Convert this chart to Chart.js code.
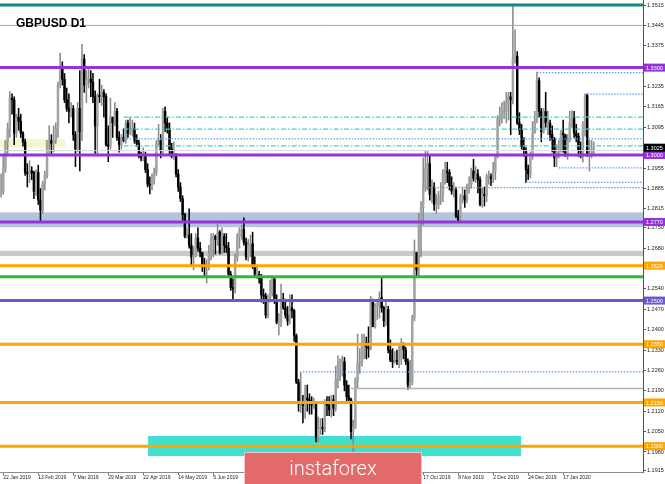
<!DOCTYPE html>
<html>
<head>
<meta charset="utf-8">
<title>GBPUSD D1</title>
<script src="https://cdn.jsdelivr.net/npm/chart.js@4.4.1/dist/chart.umd.min.js"></script>
<style>
  html, body { margin: 0; padding: 0; background: #fff; }
  #wrap { width: 665px; height: 484px; }
</style>
</head>
<body>
<div id="wrap"><canvas id="chart" width="665" height="484"></canvas></div>
<script>
// GBPUSD daily candles, 21 Jan 2019 .. 6 Feb 2020 (one line per week)
var opens = [
    1.2870, 1.2875, 1.2955, 1.3045, 1.3090,
    1.3195, 1.3190, 1.3075, 1.3130, 1.3115,
    1.3075, 1.3045, 1.2940, 1.2935, 1.2945,
    1.2940, 1.2875, 1.2940, 1.2845, 1.2810,
    1.2900, 1.2930, 1.3050, 1.3050, 1.3040,
    1.3050, 1.3090, 1.3240, 1.3300, 1.3260,
    1.3190, 1.3160, 1.3150, 1.3160, 1.3070,
    1.3020, 1.3160, 1.3080, 1.3330, 1.3240,
    1.3260, 1.3260, 1.3250, 1.3200, 1.3100,
    1.3205, 1.3200, 1.3215, 1.3200, 1.3035,
    1.3030, 1.3130, 1.3110, 1.3150, 1.3060,
    1.3035, 1.3060, 1.3050, 1.3110, 1.3075,
    1.3085, 1.3090, 1.3050, 1.3040, 1.2995,
    1.2990, 1.2995, 1.2950, 1.2900, 1.2895,
    1.2920, 1.2940, 1.3040, 1.3050, 1.3015,
    1.3150, 1.3110, 1.3090, 1.3020, 1.2995,
    1.3000, 1.2935, 1.2890, 1.2850, 1.2795,
    1.2720, 1.2725, 1.2690, 1.2650, 1.2655,
    1.2715, 1.2680, 1.2665, 1.2625, 1.2615,
    1.2625, 1.2660, 1.2710, 1.2720, 1.2710,
    1.2735, 1.2665, 1.2720, 1.2690, 1.2680,
    1.2590, 1.2545, 1.2540, 1.2650, 1.2720,
    1.2740, 1.2745, 1.2700, 1.2650, 1.2690,
    1.2695, 1.2620, 1.2590, 1.2590, 1.2575,
    1.2520, 1.2515, 1.2450, 1.2505, 1.2525,
    1.2575, 1.2505, 1.2425, 1.2425, 1.2505,
    1.2475, 1.2450, 1.2430, 1.2475, 1.2465,
    1.2380, 1.2220, 1.2145, 1.2150, 1.2140,
    1.2165, 1.2160, 1.2150, 1.2140, 1.2145,
    1.2030, 1.2060, 1.2065, 1.2060, 1.2150,
    1.2140, 1.2125, 1.2160, 1.2130, 1.2230,
    1.2280, 1.2290, 1.2290, 1.2210, 1.2170,
    1.2160, 1.2050, 1.2065, 1.2225, 1.2285,
    1.2290, 1.2355, 1.2355, 1.2340, 1.2335,
    1.2500, 1.2410, 1.2480, 1.2480, 1.2510,
    1.2475, 1.2430, 1.2470, 1.2330, 1.2295,
    1.2290, 1.2295, 1.2290, 1.2300, 1.2345,
    1.2330, 1.2290, 1.2210, 1.2220, 1.2440,
    1.2665, 1.2605, 1.2775, 1.2820, 1.2890,
    1.2955, 1.2970, 1.2865, 1.2890, 1.2830,
    1.2830, 1.2855, 1.2860, 1.2940, 1.2945,
    1.2940, 1.2895, 1.2875, 1.2880, 1.2790,
    1.2775, 1.2855, 1.2860, 1.2845, 1.2895,
    1.2900, 1.2945, 1.2920, 1.2935, 1.2915,
    1.2830, 1.2865, 1.2860, 1.2925, 1.2925,
    1.2920, 1.2945, 1.2995, 1.3125, 1.3135,
    1.3150, 1.3150, 1.3180, 1.3200, 1.3190,
    1.3330, 1.3340, 1.3110, 1.3085, 1.3030,
    1.3015, 1.2950, 1.2935, 1.3005,
    1.3075, 1.3115, 1.3255, 1.3150,
    1.3080, 1.3150, 1.3110, 1.3110, 1.3070,
    1.3055, 1.2990, 1.3010, 1.3030, 1.3075,
    1.3070, 1.3000, 1.3050, 1.3110, 1.3125,
    1.3075, 1.3065, 1.3015, 1.3010, 1.3105,
    1.3205, 1.3000, 1.3005, 1.3020
];
var highs = [
    1.2935, 1.2995, 1.3050, 1.3110, 1.3218,
    1.3210, 1.3200, 1.3140, 1.3160, 1.3140,
    1.3080, 1.3055, 1.2970, 1.2980, 1.2960,
    1.2945, 1.2950, 1.2965, 1.2885, 1.2910,
    1.2945, 1.3050, 1.3100, 1.3070, 1.3100,
    1.3110, 1.3250, 1.3350, 1.3320, 1.3280,
    1.3230, 1.3210, 1.3180, 1.3170, 1.3080,
    1.3180, 1.3290, 1.3380, 1.3345, 1.3290,
    1.3300, 1.3290, 1.3280, 1.3220, 1.3210,
    1.3260, 1.3240, 1.3225, 1.3210, 1.3100,
    1.3195, 1.3130, 1.3180, 1.3160, 1.3080,
    1.3070, 1.3090, 1.3120, 1.3120, 1.3130,
    1.3120, 1.3110, 1.3070, 1.3050, 1.3010,
    1.3025, 1.3010, 1.2970, 1.2925, 1.2935,
    1.2955, 1.3050, 1.3105, 1.3070, 1.3160,
    1.3165, 1.3130, 1.3110, 1.3040, 1.3045,
    1.3005, 1.2950, 1.2905, 1.2860, 1.2800,
    1.2750, 1.2815, 1.2730, 1.2685, 1.2730,
    1.2750, 1.2700, 1.2665, 1.2645, 1.2640,
    1.2690, 1.2730, 1.2730, 1.2725, 1.2763,
    1.2740, 1.2750, 1.2730, 1.2730, 1.2700,
    1.2600, 1.2575, 1.2660, 1.2730, 1.2750,
    1.2760, 1.2784, 1.2715, 1.2710, 1.2725,
    1.2735, 1.2650, 1.2620, 1.2600, 1.2590,
    1.2540, 1.2525, 1.2520, 1.2570, 1.2580,
    1.2575, 1.2520, 1.2455, 1.2557, 1.2525,
    1.2505, 1.2480, 1.2520, 1.2520, 1.2470,
    1.2385, 1.2230, 1.2255, 1.2175, 1.2210,
    1.2210, 1.2180, 1.2170, 1.2165, 1.2150,
    1.2100, 1.2095, 1.2095, 1.2160, 1.2170,
    1.2170, 1.2175, 1.2175, 1.2275, 1.2310,
    1.2300, 1.2310, 1.2305, 1.2225, 1.2210,
    1.2165, 1.2090, 1.2235, 1.2385, 1.2335,
    1.2385, 1.2385, 1.2375, 1.2410, 1.2515,
    1.2505, 1.2490, 1.2500, 1.2530, 1.2582,
    1.2480, 1.2500, 1.2480, 1.2365, 1.2335,
    1.2325, 1.2330, 1.2345, 1.2370, 1.2355,
    1.2340, 1.2300, 1.2295, 1.2450, 1.2708,
    1.2665, 1.2800, 1.2840, 1.2990, 1.3012,
    1.3012, 1.3000, 1.2915, 1.2905, 1.2865,
    1.2875, 1.2905, 1.2950, 1.2976, 1.2975,
    1.2950, 1.2925, 1.2905, 1.2890, 1.2810,
    1.2865, 1.2890, 1.2880, 1.2900, 1.2925,
    1.2955, 1.2985, 1.2960, 1.2950, 1.2925,
    1.2885, 1.2890, 1.2935, 1.2945, 1.2935,
    1.2975, 1.3000, 1.3135, 1.3165, 1.3180,
    1.3185, 1.3215, 1.3215, 1.3215, 1.3515,
    1.3430, 1.3355, 1.3145, 1.3105, 1.3060,
    1.3025, 1.2965, 1.3010, 1.3115,
    1.3150, 1.3285, 1.3265, 1.3160,
    1.3160, 1.3215, 1.3150, 1.3120, 1.3100,
    1.3060, 1.3035, 1.3050, 1.3085, 1.3120,
    1.3070, 1.3070, 1.3150, 1.3152, 1.3150,
    1.3105, 1.3075, 1.3045, 1.3115, 1.3210,
    1.3210, 1.3050, 1.3050, 1.3045
];
var lows = [
    1.2855, 1.2865, 1.2940, 1.3000, 1.3060,
    1.3140, 1.3035, 1.3060, 1.3085, 1.3060,
    1.3030, 1.2930, 1.2890, 1.2905, 1.2915,
    1.2850, 1.2860, 1.2830, 1.2775, 1.2800,
    1.2880, 1.2920, 1.3000, 1.3000, 1.3010,
    1.3040, 1.3060, 1.3230, 1.3240, 1.3180,
    1.3150, 1.3110, 1.3130, 1.3050, 1.2960,
    1.3010, 1.2945, 1.3050, 1.3215, 1.3180,
    1.3230, 1.3200, 1.3180, 1.3005, 1.3000,
    1.3180, 1.3170, 1.3130, 1.3030, 1.2977,
    1.3020, 1.3060, 1.3100, 1.3050, 1.3010,
    1.3020, 1.3045, 1.3040, 1.3060, 1.3070,
    1.3065, 1.3040, 1.3030, 1.2990, 1.2980,
    1.2980, 1.2940, 1.2890, 1.2866, 1.2880,
    1.2900, 1.2930, 1.3030, 1.2990, 1.3000,
    1.3080, 1.3075, 1.3000, 1.2990, 1.2985,
    1.2925, 1.2875, 1.2840, 1.2775, 1.2715,
    1.2715, 1.2680, 1.2620, 1.2605, 1.2650,
    1.2670, 1.2650, 1.2600, 1.2580, 1.2560,
    1.2605, 1.2640, 1.2650, 1.2660, 1.2690,
    1.2660, 1.2660, 1.2665, 1.2665, 1.2585,
    1.2535, 1.2506, 1.2525, 1.2635, 1.2680,
    1.2710, 1.2690, 1.2640, 1.2635, 1.2650,
    1.2610, 1.2580, 1.2575, 1.2560, 1.2495,
    1.2490, 1.2440, 1.2440, 1.2495, 1.2515,
    1.2490, 1.2420, 1.2382, 1.2410, 1.2470,
    1.2440, 1.2415, 1.2420, 1.2440, 1.2360,
    1.2215, 1.2120, 1.2115, 1.2080, 1.2095,
    1.2120, 1.2110, 1.2110, 1.2130, 1.2015,
    1.2015, 1.2040, 1.2040, 1.2050, 1.2105,
    1.2105, 1.2100, 1.2105, 1.2120, 1.2200,
    1.2225, 1.2240, 1.2190, 1.2155, 1.2150,
    1.2025, 1.1960, 1.2060, 1.2200, 1.2250,
    1.2275, 1.2300, 1.2300, 1.2305, 1.2330,
    1.2410, 1.2405, 1.2435, 1.2440, 1.2460,
    1.2410, 1.2415, 1.2320, 1.2290, 1.2270,
    1.2285, 1.2280, 1.2270, 1.2280, 1.2300,
    1.2280, 1.2195, 1.2200, 1.2210, 1.2430,
    1.2580, 1.2585, 1.2650, 1.2760, 1.2875,
    1.2880, 1.2845, 1.2835, 1.2810, 1.2800,
    1.2815, 1.2830, 1.2840, 1.2900, 1.2905,
    1.2880, 1.2865, 1.2855, 1.2785, 1.2768,
    1.2770, 1.2835, 1.2820, 1.2835, 1.2870,
    1.2885, 1.2910, 1.2905, 1.2870, 1.2825,
    1.2820, 1.2825, 1.2840, 1.2900, 1.2895,
    1.2905, 1.2915, 1.2990, 1.3100, 1.3110,
    1.3125, 1.3110, 1.3120, 1.3070, 1.3175,
    1.3315, 1.3105, 1.3070, 1.3020, 1.2995,
    1.2905, 1.2915, 1.2920, 1.2985,
    1.3075, 1.3110, 1.3130, 1.3045,
    1.3075, 1.3095, 1.3070, 1.3050, 1.3010,
    1.2960, 1.2960, 1.2990, 1.3010, 1.3010,
    1.2995, 1.2985, 1.3045, 1.3095, 1.3060,
    1.3045, 1.2995, 1.2990, 1.2975, 1.3065,
    1.2995, 1.2945, 1.2990, 1.3000
];
var closes = [
    1.2875, 1.2955, 1.3045, 1.3090, 1.3195,
    1.3190, 1.3075, 1.3130, 1.3115, 1.3075,
    1.3045, 1.2940, 1.2935, 1.2945, 1.2940,
    1.2875, 1.2940, 1.2845, 1.2810, 1.2900,
    1.2930, 1.3050, 1.3050, 1.3040, 1.3050,
    1.3090, 1.3240, 1.3300, 1.3260, 1.3190,
    1.3160, 1.3150, 1.3160, 1.3070, 1.3020,
    1.3160, 1.3080, 1.3330, 1.3240, 1.3260,
    1.3260, 1.3250, 1.3200, 1.3100, 1.3205,
    1.3200, 1.3215, 1.3200, 1.3035, 1.3030,
    1.3130, 1.3110, 1.3150, 1.3060, 1.3035,
    1.3060, 1.3050, 1.3110, 1.3075, 1.3085,
    1.3090, 1.3050, 1.3040, 1.2995, 1.2990,
    1.2995, 1.2950, 1.2900, 1.2895, 1.2920,
    1.2940, 1.3040, 1.3050, 1.3015, 1.3150,
    1.3110, 1.3090, 1.3020, 1.2995, 1.3000,
    1.2935, 1.2890, 1.2850, 1.2795, 1.2720,
    1.2725, 1.2690, 1.2650, 1.2655, 1.2715,
    1.2680, 1.2665, 1.2625, 1.2615, 1.2625,
    1.2660, 1.2710, 1.2720, 1.2710, 1.2735,
    1.2665, 1.2720, 1.2690, 1.2680, 1.2590,
    1.2545, 1.2540, 1.2650, 1.2720, 1.2740,
    1.2745, 1.2700, 1.2650, 1.2690, 1.2695,
    1.2620, 1.2590, 1.2590, 1.2575, 1.2520,
    1.2515, 1.2450, 1.2505, 1.2525, 1.2575,
    1.2505, 1.2425, 1.2425, 1.2505, 1.2475,
    1.2450, 1.2430, 1.2475, 1.2465, 1.2380,
    1.2220, 1.2145, 1.2150, 1.2140, 1.2165,
    1.2160, 1.2150, 1.2140, 1.2145, 1.2030,
    1.2060, 1.2065, 1.2060, 1.2150, 1.2140,
    1.2125, 1.2160, 1.2130, 1.2230, 1.2280,
    1.2290, 1.2290, 1.2210, 1.2170, 1.2160,
    1.2050, 1.2065, 1.2225, 1.2285, 1.2290,
    1.2355, 1.2355, 1.2340, 1.2335, 1.2500,
    1.2410, 1.2480, 1.2480, 1.2510, 1.2475,
    1.2430, 1.2470, 1.2330, 1.2295, 1.2290,
    1.2295, 1.2290, 1.2300, 1.2345, 1.2330,
    1.2290, 1.2210, 1.2220, 1.2440, 1.2665,
    1.2605, 1.2775, 1.2820, 1.2890, 1.2955,
    1.2970, 1.2865, 1.2890, 1.2830, 1.2830,
    1.2855, 1.2860, 1.2940, 1.2945, 1.2940,
    1.2895, 1.2875, 1.2880, 1.2790, 1.2775,
    1.2855, 1.2860, 1.2845, 1.2895, 1.2900,
    1.2945, 1.2920, 1.2935, 1.2915, 1.2830,
    1.2865, 1.2860, 1.2925, 1.2925, 1.2920,
    1.2945, 1.2995, 1.3125, 1.3135, 1.3150,
    1.3150, 1.3180, 1.3200, 1.3190, 1.3330,
    1.3340, 1.3110, 1.3085, 1.3030, 1.3015,
    1.2950, 1.2935, 1.3005, 1.3075,
    1.3115, 1.3255, 1.3150, 1.3080,
    1.3150, 1.3110, 1.3110, 1.3070, 1.3055,
    1.2990, 1.3010, 1.3030, 1.3075, 1.3070,
    1.3000, 1.3050, 1.3110, 1.3125, 1.3075,
    1.3065, 1.3015, 1.3010, 1.3105, 1.3205,
    1.3000, 1.3005, 1.3020, 1.3025
];

// axis labels
var tickLabels = ['22 Jan 2019', '13 Feb 2019', '7 Mar 2019', '29 Mar 2019', '22 Apr 2019',
    '14 May 2019', '5 Jun 2019', '27 Jun 2019', '19 Jul 2019', '12 Aug 2019', '3 Sep 2019',
    '25 Sep 2019', '17 Oct 2019', '8 Nov 2019', '2 Dec 2019', '24 Dec 2019', '17 Jan 2020'];
var yTicks = [1.3515, 1.3445, 1.3375, 1.3235, 1.3165, 1.3095, 1.2955, 1.2885, 1.2815,
    1.2750, 1.2680, 1.2540, 1.2470, 1.2400, 1.2330, 1.2260, 1.2190, 1.2120, 1.2050,
    1.1980, 1.1915];
var yMin = 1.19113, yMax = 1.35322;
var emptySlots = 22; // chart shift on the right

// drawn objects on the chart (price levels, zones, price tags)
var zonesTop = [1.3055, 1.2803, 1.2671, 1.2035];
var zonesBottom = [1.3027, 1.2752, 1.2653, 1.1966];
var zonesFrom = [-0.5, null, null, 67.2];
var zonesTo = [29.2, null, null, 237.7];
var zonesColor = ['#f7f5cc', '#b3c5dd', '#c9c9c9', '#40e0d0'];

var levelPrices = [1.3515, 1.3445, 1.3300, 1.3015, 1.3000, 1.2770, 1.2620, 1.2582, 1.2500,
    1.2350, 1.2198, 1.2150, 1.2000,
    1.3283, 1.3209, 1.3055, 1.2956, 1.2906, 1.2888, 1.2255,
    1.3130, 1.3089, 1.3031];
var levelFrom = [null, null, null, null, null, null, null, null, null,
    null, 160, null, null,
    245, 268, 56, 255, 240, 194, 138,
    56, 56, 56];

var priceTags = [1.3300, 1.3000, 1.2770, 1.2620, 1.2500, 1.2350, 1.2150, 1.2000, 1.3025];

var purple = '#9632d8', orange = '#ffa500', dotBlue = '#5f9ff0', dashCyan = '#3fd4c4';
var levelStyle = [
    ['#17877f', 3], ['#a8a8a8', 1], [purple, 3], ['#d6d6d6', 1], [purple, 3], [purple, 3],
    [orange, 3], ['#2fba2f', 3], ['#6a5acd', 3], [orange, 3], ['#b4b4b4', 1.5], [orange, 3], [orange, 3],
    [dotBlue, 1.2, [1.5, 1.5]], [dotBlue, 1.2, [1.5, 1.5]], [dotBlue, 1.2, [1.5, 1.5]], [dotBlue, 1.2, [1.5, 1.5]],
    [dotBlue, 1.2, [1.5, 1.5]], [dotBlue, 1.2, [1.5, 1.5]], [dotBlue, 1.2, [1.5, 1.5]],
    [dashCyan, 1.2, [5, 2, 1.5, 2]], [dashCyan, 1.2, [5, 2, 1.5, 2]], [dashCyan, 1.2, [5, 2, 1.5, 2]]
];
var tagColors = [purple, purple, purple, orange, '#6a5acd', orange, orange, orange, '#000'];

// trading days (no weekends, 25 Dec, 1 Jan)
var months = ['Jan', 'Feb', 'Mar', 'Apr', 'May', 'Jun', 'Jul', 'Aug', 'Sep', 'Oct', 'Nov', 'Dec'];
var dates = [];
var d = new Date(Date.UTC(2019, 0, 21));
while (dates.length < opens.length + emptySlots) {
    var wd = d.getUTCDay();
    var md = d.getUTCMonth() * 100 + d.getUTCDate();
    if (wd !== 0 && wd !== 6 && md !== 1125 && md !== 1) {
        dates.push(d.getUTCDate() + ' ' + months[d.getUTCMonth()] + ' ' + d.getUTCFullYear());
    }
    d.setUTCDate(d.getUTCDate() + 1);
}

var bullBody = '#a3a3a3', bullWick = '#8a8a8a', bear = '#000000';
var bodyColors = opens.map(function(o, i) { return closes[i] >= o ? bullBody : bear; });
var wickColors = opens.map(function(o, i) { return closes[i] >= o ? bullWick : bear; });

var overlay = {
    id: 'overlay',
    beforeDatasetsDraw: function(chart) {
        var ctx = chart.ctx, a = chart.chartArea, xs = chart.scales.x, ys = chart.scales.y;
        ctx.save();
        ctx.beginPath();
        ctx.rect(a.left, a.top, a.width, a.height);
        ctx.clip();
        for (var i = 0; i < zonesTop.length; i++) {
            var x0 = zonesFrom[i] === null ? a.left : xs.getPixelForValue(zonesFrom[i]);
            var x1 = zonesTo[i] === null ? a.right : xs.getPixelForValue(zonesTo[i]);
            var y0 = ys.getPixelForValue(zonesTop[i]);
            var y1 = ys.getPixelForValue(zonesBottom[i]);
            ctx.fillStyle = zonesColor[i];
            ctx.fillRect(x0, y0, x1 - x0, y1 - y0);
        }
        ctx.restore();
    },
    afterDatasetsDraw: function(chart) {
        var ctx = chart.ctx, a = chart.chartArea, xs = chart.scales.x, ys = chart.scales.y;
        ctx.save();
        ctx.beginPath();
        ctx.rect(a.left, a.top, a.width, a.height);
        ctx.clip();
        for (var i = 0; i < levelPrices.length; i++) {
            var st = levelStyle[i];
            var py = ys.getPixelForValue(levelPrices[i]);
            var x0 = levelFrom[i] === null ? a.left : xs.getPixelForValue(levelFrom[i]);
            ctx.strokeStyle = st[0];
            ctx.lineWidth = st[1];
            ctx.setLineDash(st[2] || []);
            ctx.beginPath();
            ctx.moveTo(x0, py);
            ctx.lineTo(a.right, py);
            ctx.stroke();
        }
        ctx.restore();
    },
    afterDraw: function(chart) {
        var ctx = chart.ctx, a = chart.chartArea, ys = chart.scales.y;
        ctx.save();
        // price tags on the right scale
        ctx.font = '5.5px "Liberation Sans"';
        ctx.textBaseline = 'middle';
        ctx.textAlign = 'left';
        for (var i = 0; i < priceTags.length; i++) {
            var py = ys.getPixelForValue(priceTags[i]);
            ctx.fillStyle = tagColors[i];
            ctx.fillRect(a.right + 1, py - 4, 21, 8);
            ctx.fillStyle = '#fff';
            ctx.fillText(priceTags[i].toFixed(4), a.right + 3, py + 0.5);
        }
        // symbol title
        ctx.fillStyle = '#000';
        ctx.font = 'bold 12px "Liberation Sans"';
        ctx.textBaseline = 'alphabetic';
        ctx.fillText('GBPUSD D1', 16, 27);
        // watermark
        ctx.fillStyle = '#e26a6a';
        ctx.fillRect(244, 452, 178, 32);
        ctx.strokeStyle = '#f3c4c4';
        ctx.lineWidth = 1;
        ctx.strokeRect(244.5, 452.5, 177, 32);
        ctx.fillStyle = '#fff';
        ctx.font = '300 20px Roboto';
        ctx.textAlign = 'center';
        ctx.fillText('instaforex', 333, 475);
        ctx.restore();
    }
};

var ctx = document.getElementById('chart').getContext('2d');
var chart = new Chart(ctx, {
    type: 'bar',
    data: {
        labels: dates,
        datasets: [
            {
                label: 'body',
                data: opens.map(function(o, i) { return [o, closes[i]]; }),
                backgroundColor: bodyColors,
                barThickness: 1.8,
                minBarLength: 1,
                grouped: false,
                order: 0
            },
            {
                label: 'wick',
                data: lows.map(function(l, i) { return [l, highs[i]]; }),
                backgroundColor: wickColors,
                barThickness: 0.9,
                grouped: false,
                order: 1
            }
        ]
    },
    options: {
        responsive: false,
        animation: false,
        layout: { padding: 0 },
        plugins: {
            legend: { display: false },
            tooltip: { enabled: false }
        },
        scales: {
            x: {
                type: 'category',
                offset: true,
                grid: { display: true, drawOnChartArea: false, offset: false, tickLength: 3, color: '#777' },
                border: { color: '#8c8c8c' },
                ticks: {
                    autoSkip: false, maxRotation: 0, minRotation: 0, align: 'start', padding: 0,
                    font: { size: 5, family: 'Liberation Sans' }, color: '#222'
                },
                afterBuildTicks: function(s) {
                    s.ticks = s.ticks.filter(function(t) { return tickLabels.indexOf(dates[t.value]) >= 0; });
                },
                afterFit: function(s) {
                    s.height = 12;
                    s.paddingLeft = 0;
                    s.paddingRight = 0;
                }
            },
            y: {
                position: 'right',
                min: yMin,
                max: yMax,
                grid: { drawOnChartArea: false, tickLength: 3, color: '#555' },
                border: { color: '#555' },
                ticks: {
                    autoSkip: false, padding: 1,
                    font: { size: 5.5, family: 'Liberation Sans' }, color: '#222',
                    callback: function(v) { return Number(v).toFixed(4); }
                },
                afterBuildTicks: function(s) {
                    s.ticks = yTicks.map(function(v) { return { value: v }; });
                },
                afterFit: function(s) {
                    s.width = 22;
                    s.paddingTop = 0;
                    s.paddingBottom = 0;
                }
            }
        }
    },
    plugins: [overlay]
});
</script>
</body>
</html>
